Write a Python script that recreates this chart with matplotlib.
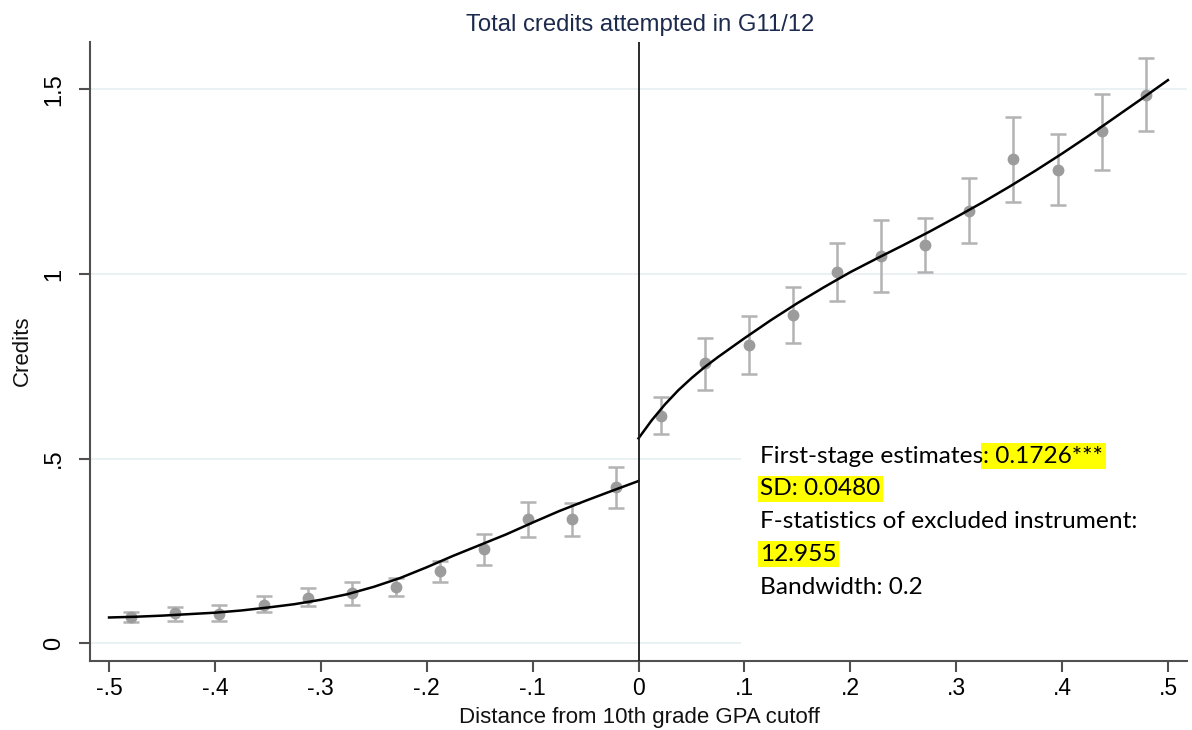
import matplotlib
matplotlib.use("Agg")
import matplotlib.pyplot as plt
from matplotlib.patches import Rectangle
from matplotlib.text import Annotation
import numpy as np

plt.rcParams["font.family"] = ["Liberation Sans", "DejaVu Sans"]

# ── binned means with 95% CI, left of the cutoff ─────────────
bin_x_left = [-0.479, -0.4375, -0.396, -0.354, -0.3125, -0.271,
              -0.229, -0.1875, -0.146, -0.104, -0.0625, -0.021]
bin_y_left = [0.072, 0.081, 0.080, 0.104, 0.124, 0.137,
              0.153, 0.196, 0.255, 0.337, 0.337, 0.422]
ci_lo_left = [0.059, 0.061, 0.061, 0.084, 0.101, 0.104,
              0.128, 0.167, 0.212, 0.287, 0.291, 0.366]
ci_hi_left = [0.086, 0.099, 0.104, 0.127, 0.149, 0.166,
              0.176, 0.224, 0.296, 0.382, 0.379, 0.477]

# ── binned means with 95% CI, right of the cutoff ────────────
bin_x_right = [0.021, 0.0625, 0.104, 0.146, 0.1875, 0.229,
               0.271, 0.3125, 0.354, 0.396, 0.4375, 0.479]
bin_y_right = [0.615, 0.760, 0.808, 0.889, 1.006, 1.049,
               1.079, 1.171, 1.311, 1.282, 1.387, 1.485]
ci_lo_right = [0.566, 0.686, 0.728, 0.814, 0.928, 0.950,
               1.006, 1.085, 1.196, 1.187, 1.282, 1.387]
ci_hi_right = [0.668, 0.828, 0.886, 0.964, 1.085, 1.146,
               1.151, 1.259, 1.424, 1.379, 1.487, 1.586]

# ── fitted polynomial ────────────────────────────────────────
fit_x_left = [-0.5, -0.475, -0.45, -0.425, -0.4, -0.375, -0.35,
              -0.325, -0.3, -0.275, -0.25, -0.225, -0.2, -0.175,
              -0.15, -0.125, -0.1, -0.075, -0.05, -0.025, 0.0]
fit_y_left = [0.070, 0.072, 0.075, 0.079, 0.083, 0.089, 0.097,
              0.106, 0.118, 0.133, 0.153, 0.177, 0.206, 0.237,
              0.266, 0.295, 0.327, 0.358, 0.386, 0.413, 0.4395]
fit_x_right = [0.0, 0.0125, 0.025, 0.0375, 0.05, 0.0625, 0.075, 0.1,
               0.125, 0.15, 0.175, 0.2, 0.225, 0.25, 0.275, 0.3,
               0.325, 0.35, 0.375, 0.4, 0.425, 0.45, 0.475, 0.5]
fit_y_right = [0.555, 0.604, 0.647, 0.685, 0.718, 0.748, 0.775, 0.826,
               0.875, 0.921, 0.964, 1.005, 1.042, 1.078, 1.115, 1.154,
               1.194, 1.236, 1.280, 1.326, 1.374, 1.424, 1.474, 1.525]

x_ticks = [-0.5, -0.4, -0.3, -0.2, -0.1, 0.0, 0.1, 0.2, 0.3, 0.4, 0.5]
x_tick_labels = ["-.5", "-.4", "-.3", "-.2", "-.1", "0",
                 ".1", ".2", ".3", ".4", ".5"]
y_ticks = [0.0, 0.5, 1.0, 1.5]
y_tick_labels = ["0", ".5", "1", "1.5"]

title = "Total credits attempted in G11/12"
x_label = "Distance from 10th grade GPA cutoff"
y_label = "Credits"

W, H = 1192, 730
fig = plt.figure(figsize=(W / 100, H / 100), dpi=100)
fig.patch.set_facecolor("white")
ax = fig.add_axes([90 / W, 1 - 660.7 / H, (1187 - 90) / W, (660.7 - 41.7) / H])

AXIS_C = "#505050"
ax.set_xlim(-0.518, 0.518)
ax.set_ylim(-0.047, 1.629)
for s in ("top", "right"):
    ax.spines[s].set_visible(False)
for s in ("left", "bottom"):
    ax.spines[s].set_color(AXIS_C)
    ax.spines[s].set_linewidth(1.5)

ax.set_xticks(x_ticks)
ax.set_xticklabels(x_tick_labels, fontsize=16.5)
ax.set_yticks(y_ticks)
ax.set_yticklabels(y_tick_labels, fontsize=17, rotation=90, va="center")
ax.tick_params(axis="both", direction="out", length=8, width=1.5,
               color=AXIS_C)
ax.tick_params(axis="x", pad=4)
ax.tick_params(axis="y", pad=10)

ax.yaxis.grid(True, color="#e6eff1", linewidth=1.2)
ax.set_axisbelow(True)

# ── binned scatter + CIs ─────────────────────────────────────
for bx, by, lo, hi in ((bin_x_left, bin_y_left, ci_lo_left, ci_hi_left),
                       (bin_x_right, bin_y_right, ci_lo_right, ci_hi_right)):
    bx, by = np.array(bx), np.array(by)
    yerr = [by - np.array(lo), np.array(hi) - by]
    ax.errorbar(bx, by, yerr=yerr, fmt="none", ecolor="#b3b3b3",
                elinewidth=1.8, capsize=5.5, capthick=1.8, zorder=2)
    ax.plot(bx, by, "o", color="#9c9c9c", markersize=7.5, zorder=3)

ax.plot(fit_x_left, fit_y_left, color="black", linewidth=1.8, zorder=4)
ax.plot(fit_x_right, fit_y_right, color="black", linewidth=1.8, zorder=4)
ax.axvline(0, color="#1a1a1a", linewidth=1.3, zorder=5)

# ── titles ───────────────────────────────────────────────────
fig.text(640 / W, 1 - 25 / H, title, ha="center", va="center",
         fontsize=17.2, color="#1c2a4e")
fig.text(639 / W, 1 - 723 / H, x_label, ha="center", va="baseline",
         fontsize=16, color="#111111")
fig.text(22 / W, 1 - 351 / H, y_label, ha="center", va="center",
         rotation=90, fontsize=16, color="#111111")

# ── white text box with first-stage stats ────────────────────
fig.add_artist(Rectangle((741 / W, 1 - 655 / H), (W - 741) / W, (655 - 420) / H,
                         transform=fig.transFigure, facecolor="white",
                         edgecolor="none", zorder=1))

BOX_FONT = ["Lato", "DejaVu Sans"]
BOX_FS = 17.6
hl = dict(boxstyle="square,pad=0.1", facecolor="#ffff00", edgecolor="none")
x0 = 760 / W
baselines = [462.7, 495.4, 528.1, 560.8, 593.5]

t1 = fig.text(x0, 1 - baselines[0] / H, "First-stage estimates",
              va="baseline", family=BOX_FONT, fontsize=BOX_FS, zorder=3.2)
fig.add_artist(Annotation(": 0.1726***", xy=(1, 0), xycoords=t1,
                          ha="left", va="bottom", family=BOX_FONT,
                          fontsize=BOX_FS, bbox=hl, zorder=3.0))
fig.text(x0, 1 - baselines[1] / H, "SD: 0.0480", va="baseline",
         family=BOX_FONT, fontsize=BOX_FS, bbox=hl, zorder=3)
fig.text(x0, 1 - baselines[2] / H, "F-statistics of excluded instrument:",
         va="baseline", family=BOX_FONT, fontsize=BOX_FS, zorder=3)
fig.text(x0, 1 - baselines[3] / H, "12.955", va="baseline",
         family=BOX_FONT, fontsize=BOX_FS, bbox=hl, zorder=3)
fig.text(x0, 1 - baselines[4] / H, "Bandwidth: 0.2", va="baseline",
         family=BOX_FONT, fontsize=BOX_FS, zorder=3)

fig.savefig("out.png", dpi=100, facecolor="white")
